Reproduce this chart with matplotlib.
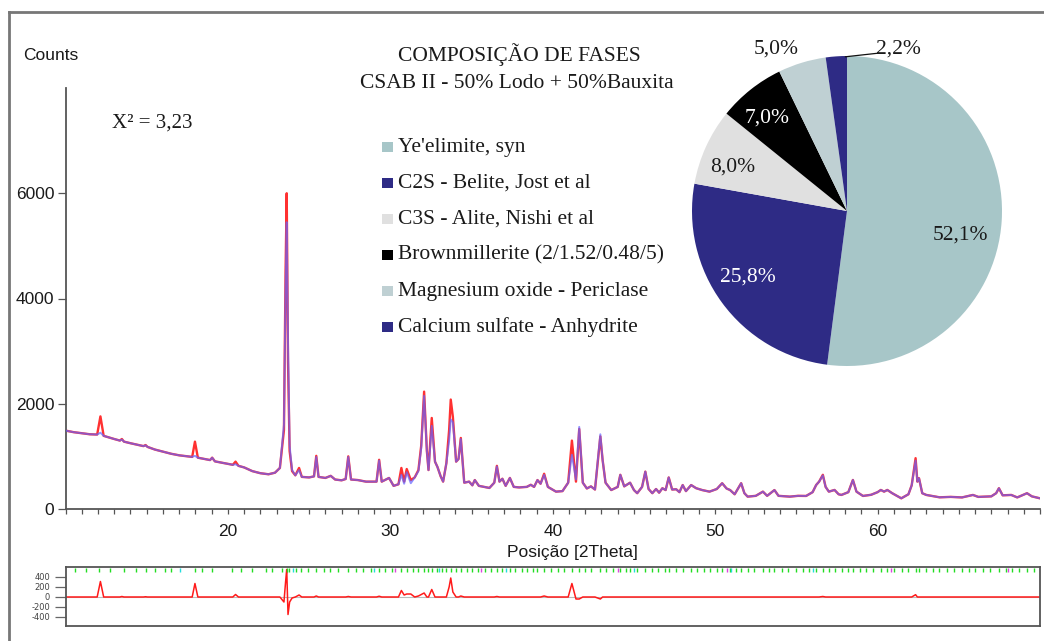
import matplotlib
matplotlib.use("Agg")
import matplotlib.pyplot as plt
from matplotlib.patches import Rectangle
from matplotlib.lines import Line2D
from matplotlib.ticker import MultipleLocator

plt.rcParams["axes.unicode_minus"] = False

# ---------------------------------------------------------------- data
two_theta = [
    10.0, 10.5, 11.0, 11.5, 11.95, 12.15, 12.35, 13.0, 13.35, 13.47,
    13.6, 14.0, 14.8, 14.93, 15.05, 15.5, 16.0, 16.5, 17.0, 17.5,
    17.8, 17.97, 18.15, 18.5, 18.9, 19.03, 19.2, 19.8, 20.3, 20.47,
    20.65, 21.0, 21.5, 22.0, 22.5, 22.9, 23.2, 23.45, 23.55, 23.62,
    23.7, 23.8, 23.95, 24.15, 24.38, 24.55, 25.0, 25.3, 25.44, 25.58,
    26.0, 26.33, 26.6, 27.0, 27.25, 27.41, 27.58, 28.0, 28.5, 29.15,
    29.31, 29.47, 29.92, 30.2, 30.5, 30.68, 30.85, 31.01, 31.26, 31.5,
    31.73, 31.9, 32.08, 32.25, 32.35, 32.55, 32.75, 32.9, 33.1, 33.25,
    33.45, 33.62, 33.72, 33.85, 34.05, 34.2, 34.34, 34.55, 34.85, 35.05,
    35.2, 35.45, 36.1, 36.4, 36.56, 36.72, 36.9, 37.1, 37.36, 37.6,
    37.93, 38.4, 38.65, 38.85, 39.06, 39.25, 39.47, 39.7, 40.2, 40.6,
    40.95, 41.18, 41.43, 41.63, 41.85, 42.1, 42.35, 42.6, 42.93, 43.07,
    43.25, 43.6, 44.0, 44.16, 44.4, 44.76, 45.0, 45.2, 45.5, 45.7,
    45.9, 46.13, 46.36, 46.55, 46.75, 46.95, 47.14, 47.35, 47.6, 47.8,
    48.0, 48.2, 48.52, 48.83, 49.2, 49.65, 50.1, 50.43, 50.7, 50.92,
    51.2, 51.6, 51.8, 52.0, 52.5, 52.94, 53.2, 53.65, 53.9, 54.6,
    55.1, 55.6, 56.0, 56.22, 56.4, 56.63, 56.8, 57.0, 57.35, 57.6,
    57.77, 58.2, 58.48, 58.7, 59.1, 59.6, 60.0, 60.2, 60.4, 60.6,
    60.9, 61.46, 61.9, 62.1, 62.34, 62.45, 62.55, 62.75, 63.0, 63.82,
    64.5, 65.2, 65.87, 66.2, 67.0, 67.3, 67.47, 67.7, 68.23, 68.6,
    69.2, 69.5, 70.0,
]

counts_obs = [
    1490, 1460, 1440, 1420, 1415, 1760, 1390, 1330, 1300, 1330,
    1280, 1250, 1195, 1215, 1180, 1130, 1090, 1050, 1020, 1000,
    990, 1280, 975, 955, 930, 975, 905, 870, 840, 900,
    820, 790, 720, 680, 660, 690, 780, 1500, 4500, 6000,
    2800, 1100, 720, 640, 780, 610, 600, 620, 1010, 610,
    590, 630, 560, 545, 570, 1000, 560, 550, 520, 520,
    935, 520, 590, 440, 470, 780, 520, 760, 550, 600,
    740, 1200, 2230, 1100, 740, 1730, 900, 800, 620, 520,
    870, 1500, 2080, 1750, 900, 950, 1350, 500, 520, 450,
    550, 440, 400, 500, 820, 520, 575, 440, 590, 420,
    410, 420, 460, 420, 550, 480, 670, 420, 330, 340,
    500, 1300, 520, 1520, 500, 390, 430, 370, 1380, 930,
    500, 360, 420, 650, 430, 500, 360, 300, 420, 710,
    380, 300, 380, 310, 395, 360, 600, 370, 375, 320,
    455, 340, 455, 395, 360, 330, 380, 490, 390, 360,
    280, 490, 300, 235, 250, 330, 250, 360, 250, 235,
    250, 248, 320, 457, 520, 650, 420, 330, 362, 280,
    267, 320, 552, 330, 248, 270, 320, 362, 330, 362,
    300, 203, 280, 450, 966, 520, 585, 300, 267, 222,
    230, 220, 267, 230, 240, 300, 395, 260, 267, 220,
    300, 240, 203,
]

counts_calc = [
    1490, 1460, 1440, 1420, 1415, 1450, 1390, 1330, 1300, 1320,
    1280, 1250, 1195, 1210, 1180, 1130, 1090, 1050, 1020, 1000,
    990, 1010, 975, 955, 930, 975, 905, 870, 840, 850,
    820, 790, 720, 680, 660, 690, 780, 1600, 4200, 5450,
    3150, 1200, 740, 640, 740, 610, 600, 620, 990, 610,
    590, 630, 560, 545, 570, 990, 560, 550, 520, 520,
    920, 520, 590, 440, 470, 650, 480, 700, 490, 600,
    720, 1150, 2150, 1100, 740, 1580, 900, 800, 620, 520,
    870, 1300, 1700, 1650, 900, 950, 1330, 500, 520, 450,
    550, 440, 400, 500, 810, 520, 575, 440, 590, 420,
    410, 420, 460, 420, 550, 480, 650, 420, 330, 340,
    500, 1030, 560, 1560, 500, 390, 430, 370, 1420, 930,
    500, 360, 420, 650, 430, 500, 360, 300, 420, 710,
    380, 300, 380, 310, 395, 360, 600, 370, 375, 320,
    455, 340, 455, 395, 360, 330, 380, 490, 390, 360,
    280, 490, 300, 235, 250, 330, 250, 360, 250, 235,
    250, 248, 320, 457, 520, 640, 420, 330, 362, 280,
    267, 320, 552, 330, 248, 270, 320, 362, 330, 362,
    300, 203, 280, 450, 920, 520, 585, 300, 267, 222,
    230, 220, 267, 230, 240, 300, 395, 260, 267, 220,
    300, 240, 203,
]

# reflection markers of the refined phases
refl_green = [
    10.57, 11.27, 12.05, 12.77, 13.6, 14.31, 14.93, 15.54, 16.1, 16.47,
    18.0, 18.42, 19.03, 20.27, 20.78, 21.5, 22.32, 22.73, 23.35, 23.62,
    23.76, 24.2, 24.5, 24.9, 25.44, 25.9, 26.3, 26.8, 27.41, 27.9,
    28.3, 28.8, 29.31, 29.7, 30.1, 30.68, 31.01, 31.4, 31.73, 32.08,
    32.3, 32.55, 32.9, 33.2, 33.45, 33.72, 34.05, 34.34, 34.7, 35.05,
    35.4, 35.8, 36.2, 36.56, 36.9, 37.36, 37.7, 38.1, 38.4, 38.8,
    39.06, 39.47, 39.9, 40.3, 40.7, 41.18, 41.63, 42.0, 42.35, 42.93,
    43.3, 43.7, 44.16, 44.5, 44.76, 45.2, 45.7, 46.1, 46.5, 46.9,
    47.14, 47.6, 48.0, 48.52, 48.9, 49.3, 49.7, 50.1, 50.43, 50.9,
    51.3, 51.6, 52.0, 52.4, 52.94, 53.3, 53.65, 54.1, 54.5, 55.0,
    55.4, 55.8, 56.22, 56.63, 57.0, 57.35, 57.8, 58.2, 58.48, 58.9,
    59.3, 59.7, 60.2, 60.6, 61.0, 61.5, 61.9, 62.34, 62.55, 63.0,
    63.4, 63.8, 64.3, 64.7, 65.2, 65.6, 66.0, 66.5, 66.9, 67.47,
    67.9, 68.3, 68.7, 69.2, 69.6,
]
refl_cyan = [17.08, 24.0, 29.0, 33.0, 37.1, 45.0, 51.0, 56.0]
refl_magenta = [30.3, 35.6, 44.0, 50.7, 60.8, 68.0]

phase_names = [
    "Ye'elimite, syn",
    "C2S - Belite, Jost et al",
    "C3S - Alite, Nishi et al",
    "Brownmillerite (2/1.52/0.48/5)",
    "Magnesium oxide - Periclase",
    "Calcium sulfate - Anhydrite",
]
phase_pct = [52.1, 25.8, 8.0, 7.0, 5.0, 2.2]
phase_colors = ["#a7c6c8", "#2e2b85", "#e0e0e0", "#000000", "#bfd0d3", "#2e2b85"]

x_ticks = [20, 30, 40, 50, 60]
y_ticks = [0, 2000, 4000, 6000]
diff_ticks = [-400, -200, 0, 200, 400]

# ---------------------------------------------------------------- layout
W, H = 1044, 641
SERIF = "Liberation Serif"
SANS = "Liberation Sans"
fig = plt.figure(figsize=(W / 100, H / 100), dpi=100)


def box(x0, y0, x1, y1):
    """Pixel box (origin top-left) -> figure rectangle."""
    return [x0 / W, 1 - y1 / H, (x1 - x0) / W, (y1 - y0) / H]


# main diffractogram: observed (red) under calculated profile (blue)
ax = fig.add_axes(box(65.5, 88, 1040, 509))
ax.plot(two_theta, counts_obs, color="#ff1a1a", lw=1.7, alpha=0.9, zorder=2)
ax.plot(two_theta, counts_calc, color="#6464ff", lw=1.4, alpha=0.7, zorder=3)
ax.set_xlim(10, 70)
ax.set_ylim(0, 8000)
ax.set_xticks(x_ticks)
ax.xaxis.set_minor_locator(MultipleLocator(1))
ax.set_yticks(y_ticks)
for s in ("top", "right"):
    ax.spines[s].set_visible(False)
for s in ("left", "bottom"):
    ax.spines[s].set_color("#555555")
    ax.spines[s].set_linewidth(1.3)
ax.tick_params(axis="x", which="both", direction="out", length=3.5, width=0.9,
               color="#555555", pad=7, labelsize=12.5)
ax.tick_params(axis="y", direction="out", length=6, width=0.9, color="#555555",
               pad=2, labelsize=12.5)
for lab in ax.get_xticklabels() + ax.get_yticklabels():
    lab.set_fontfamily(SANS)
    lab.set_color("#1a1a1a")
ax.patch.set_alpha(0)

# residual panel
axd = fig.add_axes(box(65.5, 567, 1040, 626))
residual = [o - c for o, c in zip(counts_obs, counts_calc)]
axd.axhline(0, color="#bbbbbb", lw=0.8, zorder=1)
axd.plot(two_theta, residual, color="#ff1a1a", lw=1.1, zorder=2)
axd.vlines(refl_green, 0.91, 0.99, transform=axd.get_xaxis_transform(),
           color="#22dd22", lw=1.0)
axd.vlines(refl_cyan, 0.91, 0.99, transform=axd.get_xaxis_transform(),
           color="#22dddd", lw=1.0)
axd.vlines(refl_magenta, 0.91, 0.99, transform=axd.get_xaxis_transform(),
           color="#dd44dd", lw=1.0)
axd.set_xlim(10, 70)
axd.set_ylim(-580, 600)
axd.set_xticks([])
axd.set_yticks(diff_ticks)
axd.tick_params(axis="y", length=8, width=0.9, color="#666666", pad=3,
                labelsize=6, labelcolor="#444444")
for s in axd.spines.values():
    s.set_color("#555555")
    s.set_linewidth(1.3)

# phase composition pie
axp = fig.add_axes(box(692, 56, 1002, 366))
axp.pie(phase_pct, colors=phase_colors, startangle=90, counterclock=False,
        radius=1, wedgeprops=dict(linewidth=0))
axp.set_xlim(-1, 1)
axp.set_ylim(-1, 1)
axp.set_aspect("equal")
axp.axis("off")
label_pos = [(0.731, -0.183), (-0.637, -0.456), (-0.739, 0.254),
             (-0.513, 0.570), (-0.456, 1.013), (0.331, 1.013)]
label_col = ["#1a1a1a", "#ffffff", "#1a1a1a", "#ffffff", "#1a1a1a", "#1a1a1a"]
for v, (px, py), c in zip(phase_pct, label_pos, label_col):
    axp.text(px, py, f"{v:.1f}%".replace(".", ","), ha="center", va="baseline",
             fontsize=15.5, family=SERIF, color=c, clip_on=False)
axp.plot([-0.01, 0.19], [0.995, 1.017], color="#111111", lw=0.9, clip_on=False)

# overlay for free text, legend and outer frame
ov = fig.add_axes([0, 0, 1, 1], zorder=5)
ov.set_xlim(0, W)
ov.set_ylim(H, 0)
ov.axis("off")
ov.patch.set_alpha(0)

ov.add_line(Line2D([9, 9], [12, H], color="#777777", lw=2))
ov.add_line(Line2D([9, W], [12, 12], color="#777777", lw=2))

ov.text(23, 55, "Counts", ha="left", va="center", fontsize=12.5, family=SANS,
        color="#1a1a1a")
ov.text(572, 552, "Posição [2Theta]", ha="center", va="center", fontsize=12.5,
        family=SANS, color="#1a1a1a")
ov.text(112, 128, "X² = 3,23", ha="left", va="baseline", fontsize=15,
        family=SERIF, color="#1a1a1a")

ov.text(519, 60.7, "COMPOSIÇÃO DE FASES", ha="center", va="baseline",
        fontsize=15.5, family=SERIF, color="#1a1a1a")
ov.text(517, 88.3, "CSAB II - 50% Lodo + 50%Bauxita", ha="center",
        va="baseline", fontsize=15.5, family=SERIF, color="#1a1a1a")

for i, (name, col) in enumerate(zip(phase_names, phase_colors)):
    base = 151.6 + 36 * i
    ov.add_patch(Rectangle((382, base - 10), 11, 10, facecolor=col,
                           edgecolor="none"))
    ov.text(398, base, name, ha="left", va="baseline", fontsize=15.5,
            family=SERIF, color="#1a1a1a")

fig.savefig("out.png", dpi=100)
